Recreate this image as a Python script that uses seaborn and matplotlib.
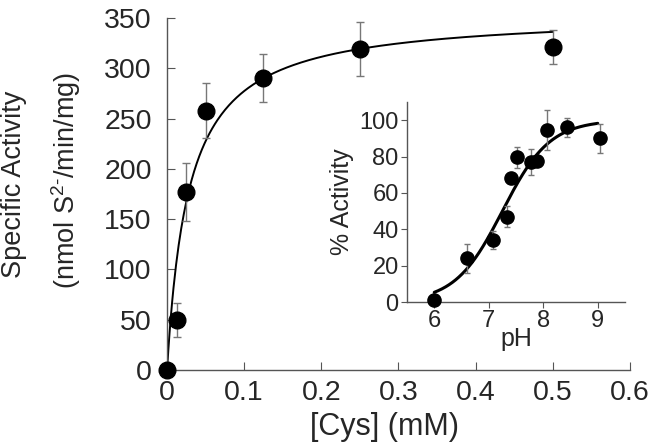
import numpy as np
import pandas as pd
import matplotlib
matplotlib.use("Agg")
import matplotlib.pyplot as plt
import seaborn as sns

# ---- main panel data ----
cys_mM = [0.0, 0.0125, 0.025, 0.05, 0.125, 0.25, 0.5]
activity = [0, 50, 177, 258, 290, 319, 321]
activity_err = [0, 17, 29, 27, 24, 27, 17]
vmax_fit = 355.0
km_fit = 0.028

# ---- inset data ----
ph = [6.0, 6.61, 7.07, 7.33, 7.41, 7.52, 7.77, 7.88, 8.07, 8.44, 9.05]
pct_activity = [1, 24, 34, 47, 68, 79.5, 77, 77.5, 94.7, 96, 90]
pct_err = [0, 8, 5, 6, 0, 6, 7, 0, 11, 5, 8]
amax_fit = 100.0
pka_fit = 7.25

main_xticks = [0, 0.1, 0.2, 0.3, 0.4, 0.5, 0.6]
main_xticklabels = ["0", "0.1", "0.2", "0.3", "0.4", "0.5", "0.6"]
main_yticks = [0, 50, 100, 150, 200, 250, 300, 350]
inset_xticks = [6, 7, 8, 9]
inset_yticks = [0, 20, 40, 60, 80, 100]

sns.set_style("ticks")
plt.rcParams['font.family'] = ['Liberation Sans', 'DejaVu Sans']
plt.rcParams['mathtext.fontset'] = 'custom'
plt.rcParams['mathtext.rm'] = 'Liberation Sans'
plt.rcParams['mathtext.default'] = 'regular'

fig = plt.figure(figsize=(6.5, 4.44), dpi=100)
ax = fig.add_axes([0.257, 0.1667, 0.712, 0.7928])

spine_col = "#555555"
err_col = "#777777"

# fit curve
xf = np.linspace(0, 0.5, 300)
yf = vmax_fit * xf / (km_fit + xf)
sns.lineplot(x=xf, y=yf, ax=ax, color="black", lw=1.4)
ax.errorbar(cys_mM, activity, yerr=activity_err, fmt="none", ecolor=err_col,
            elinewidth=1, capsize=3, capthick=1, zorder=2)
ax.plot(cys_mM, activity, "o", color="black", ms=12, zorder=5, clip_on=False)

ax.set_xlim(0, 0.6)
ax.set_ylim(0, 350)
ax.set_xticks(main_xticks)
ax.set_xticklabels(main_xticklabels)
ax.set_yticks(main_yticks)
ax.tick_params(direction="in", length=6, width=0.8, color=spine_col,
               labelsize=20.5, pad=7)
ax.tick_params(axis="y", pad=11)
for s in ["top", "right"]:
    ax.spines[s].set_visible(False)
for s in ["left", "bottom"]:
    ax.spines[s].set_color(spine_col)
    ax.spines[s].set_linewidth(1)
ax.set_xlabel("")
ax.set_ylabel("")

fig.text(385 / 650, 2 / 444, "[Cys] (mM)", ha="center", va="bottom", fontsize=22)
fig.text(14 / 650, 1 - 184 / 444, "Specific Activity", ha="center", va="center",
         rotation=90, fontsize=19.5)
fig.text(66 / 650, 1 - 180 / 444, "(nmol S$^{2\\text{-}}$/min/mg)", ha="center", va="center",
         rotation=90, fontsize=19.5)

# ---- inset ----
ins = fig.add_axes([407 / 650, 1 - 302 / 444, (625 - 407) / 650, (302 - 102) / 444])
ins.set_facecolor("none")
pf = np.linspace(6.0, 9.0, 300)
af = amax_fit / (1 + 10 ** (pka_fit - pf))
sns.lineplot(x=pf, y=af, ax=ins, color="black", lw=2.2)
ins.errorbar(ph, pct_activity, yerr=pct_err, fmt="none", ecolor=err_col,
             elinewidth=1, capsize=2, capthick=1, zorder=2)
ins.plot(ph, pct_activity, "o", color="black", ms=9.5, zorder=5, clip_on=False)
ins.set_xlim(5.5, 9.5)
ins.set_ylim(0, 110)
ins.set_xticks(inset_xticks)
ins.set_yticks(inset_yticks)
ins.tick_params(direction="out", length=4, width=0.8, color=spine_col,
                labelsize=17, pad=2)
for s in ["top", "right"]:
    ins.spines[s].set_visible(False)
for s in ["left", "bottom"]:
    ins.spines[s].set_color(spine_col)
    ins.spines[s].set_linewidth(1)
ins.set_xlabel("pH", fontsize=18, labelpad=-4)
ins.set_ylabel("% Activity", fontsize=18, labelpad=4)

fig.savefig("out.png", dpi=100)
